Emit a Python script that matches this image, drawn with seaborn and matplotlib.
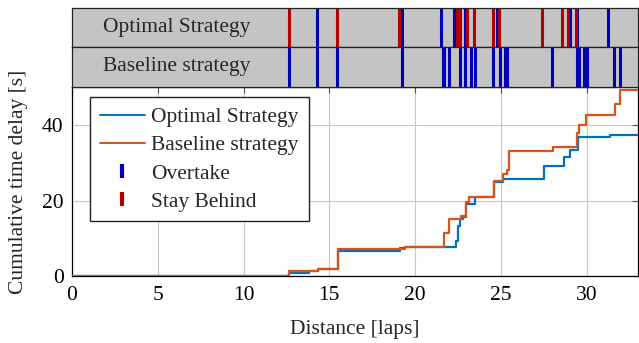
import numpy as np
import pandas as pd
import matplotlib
matplotlib.use("Agg")
import matplotlib.pyplot as plt
from matplotlib.lines import Line2D
import seaborn as sns

# ---- data -------------------------------------------------------------
opt_laps = [0, 12.68, 13.8, 14.35, 15.5, 19.1, 19.4, 22.4, 22.5, 22.6, 22.8,
            23.0, 23.47, 24.62, 25.1, 27.52, 28.68, 29.02, 29.49, 31.38, 33]
opt_delay = [0, 0.8, 1.4, 1.9, 6.6, 7.4, 7.8, 9.3, 13.3, 15.0, 15.6,
             19.0, 21.0, 25.0, 25.6, 29.2, 31.4, 33.4, 36.8, 37.4, 37.4]

base_laps = [0, 12.68, 14.35, 15.5, 19.4, 21.7, 22.0, 22.7, 23.0, 23.17,
             24.62, 25.1, 25.39, 25.49, 28.06, 29.45, 29.55, 29.99, 31.63, 31.96, 33]
base_delay = [0, 1.4, 1.9, 7.2, 7.8, 11.5, 15.0, 16.0, 19.6, 20.9,
              25.3, 26.9, 28.1, 33.1, 34.2, 38.0, 40.0, 42.6, 45.7, 49.3, 49.3]

opt_overtake = [14.30, 19.25, 21.52, 22.25, 22.90, 24.75, 29.03, 29.45, 31.23]
opt_stay = [12.64, 15.44, 19.06, 22.45, 22.60, 23.03, 23.41, 24.55, 24.90,
            27.42, 28.57, 28.89, 29.40]
base_overtake = [12.66, 14.30, 15.44, 19.25, 21.61, 21.68, 22.0, 22.61, 22.94,
                 23.26, 23.48, 24.57, 24.94, 25.22, 25.39, 28.0, 29.42, 29.54,
                 29.86, 30.0, 31.59, 31.94]

strip_labels = ["Optimal Strategy", "Baseline strategy"]
xticks = [0, 5, 10, 15, 20, 25, 30]
yticks = [0, 20, 40]

# ---- style ------------------------------------------------------------
sns.set_theme(style="white")
plt.rcParams["font.family"] = ["Liberation Serif", "DejaVu Serif"]
plt.rcParams["mathtext.fontset"] = "stix"

FS = 15.5
C_OPT = "#0072BD"
C_BASE = "#D95319"
C_OVER = "#0000B4"
C_STAY = "#B40000"

W, H = 639, 343
fig = plt.figure(figsize=(W / 100, H / 100), dpi=100)

x0, x1 = 72 / W, 638 / W
ax = fig.add_axes([x0, 1 - 276 / H, x1 - x0, (276 - 87.3) / H])
ax_s1 = fig.add_axes([x0, 1 - 47.3 / H, x1 - x0, (47.3 - 8.3) / H])
ax_s2 = fig.add_axes([x0, 1 - 86.7 / H, x1 - x0, (86.7 - 47.3) / H])

df_opt = pd.DataFrame({"lap": opt_laps, "delay": opt_delay})
df_base = pd.DataFrame({"lap": base_laps, "delay": base_delay})

sns.lineplot(data=df_opt, x="lap", y="delay", ax=ax, color=C_OPT, lw=1.6,
             drawstyle="steps-post", estimator=None, sort=False,
             label="Optimal Strategy", zorder=3)
sns.lineplot(data=df_base, x="lap", y="delay", ax=ax, color=C_BASE, lw=1.6,
             drawstyle="steps-post", estimator=None, sort=False,
             label="Baseline strategy", zorder=4)

ax.set_xlim(0, 33)
ax.set_ylim(0, 50)
ax.set_xticks(xticks)
ax.set_yticks(yticks)
ax.grid(True, color="#c8c8c8", lw=0.8)
ax.tick_params(direction="in", length=4, width=0.8, labelsize=FS,
               top=True, right=True, colors="#555555", labelcolor="black")
ax.tick_params(axis="x", pad=7)
ax.tick_params(axis="y", pad=6)
for s in ax.spines.values():
    s.set_color("black")
    s.set_linewidth(0.9)
ax.set_xlabel("Distance [laps]", fontsize=FS, labelpad=11)
ax.set_ylabel("Cumulative time delay [s]", fontsize=FS, labelpad=10)

handles = [
    Line2D([], [], color=C_OPT, lw=1.4),
    Line2D([], [], color=C_BASE, lw=1.4),
    Line2D([], [], ls="none", marker="|", markersize=10, mew=3.0, color=C_OVER),
    Line2D([], [], ls="none", marker="|", markersize=10, mew=3.0, color=C_STAY),
]
leg = ax.legend(handles, ["Optimal Strategy", "Baseline strategy", "Overtake", "Stay Behind"],
                loc="upper left", bbox_to_anchor=(0.032, 0.947), fontsize=FS,
                frameon=True, fancybox=False, framealpha=1, edgecolor="#222222",
                borderpad=0.45, labelspacing=0.38, handlelength=2.1, handletextpad=0.3,
                borderaxespad=0)
leg.get_frame().set_linewidth(1.0)

for sax, label, over, stay in [(ax_s1, strip_labels[0], opt_overtake, opt_stay),
                               (ax_s2, strip_labels[1], base_overtake, [])]:
    sax.set_facecolor("#c4c4c4")
    sax.set_xlim(0, 33)
    sax.set_ylim(0, 1)
    sax.set_xticks([])
    sax.set_yticks([])
    for s in sax.spines.values():
        s.set_color("#222222")
        s.set_linewidth(0.9)
    for v in over:
        sax.axvline(v, color=C_OVER, lw=2.2)
    for v in stay:
        sax.axvline(v, color=C_STAY, lw=2.2)
    sax.text((177 - 72) / 566, 0.5, label, transform=sax.transAxes,
             ha="center", va="center", fontsize=FS)

fig.savefig("out.png", dpi=100)
